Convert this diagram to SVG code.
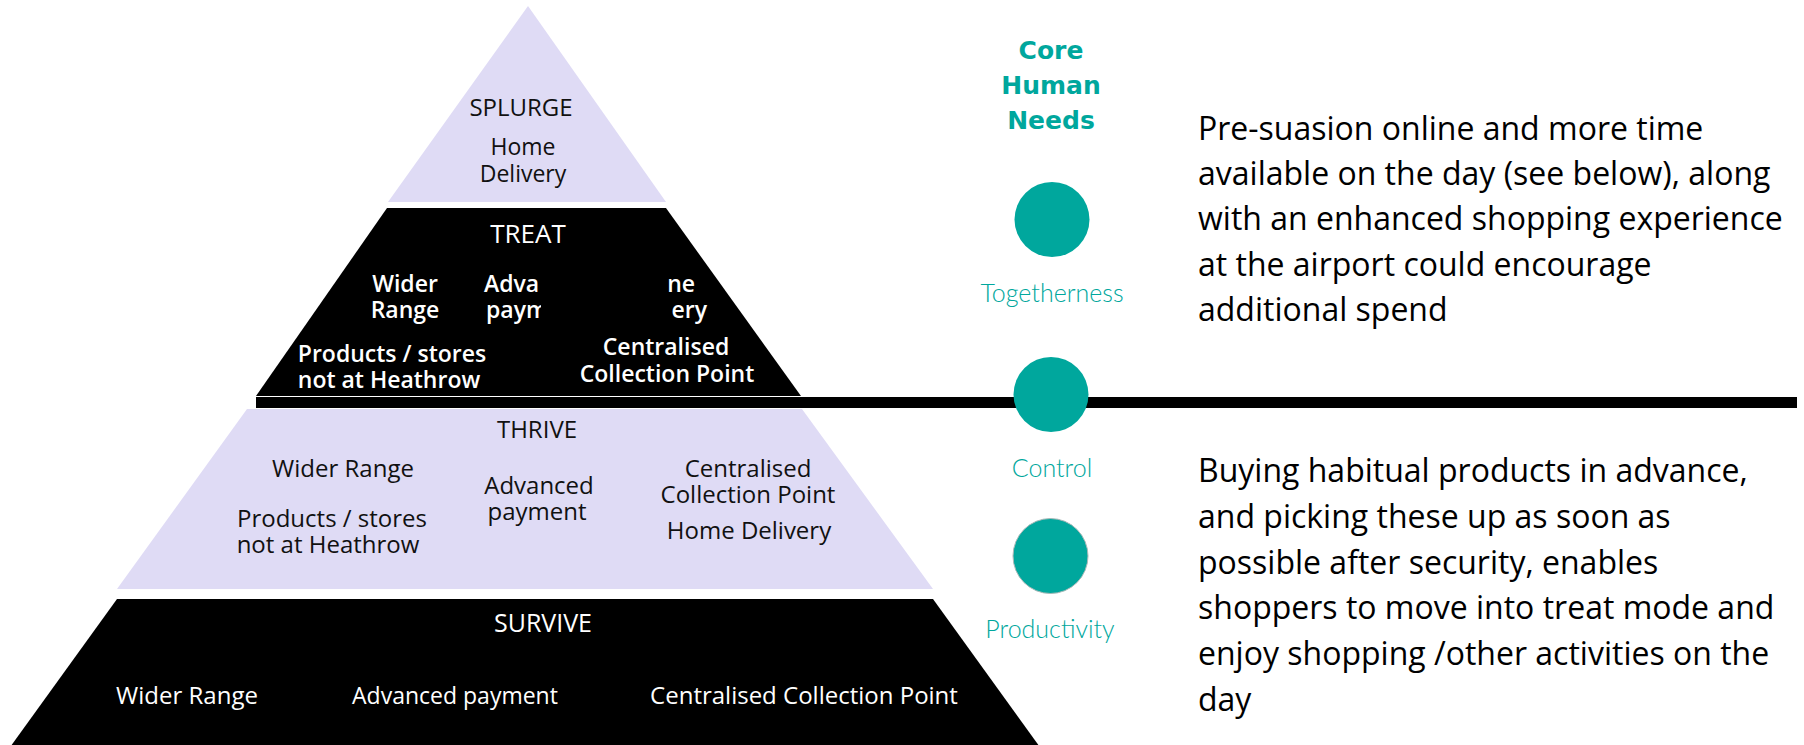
<svg xmlns="http://www.w3.org/2000/svg" width="1804" height="745" viewBox="0 0 1804 745">
<style>
.lav{fill:#DFDBF5}
.blk{fill:#000}
.pt{font-family:"Open Sans","Liberation Sans",sans-serif;text-anchor:middle}
.dark{fill:#111}
.wh{fill:#fff}
.sb{font-weight:600}
.teal{fill:#00A79D}
.lbl{font-family:Lato,"Open Sans",sans-serif;font-size:25px;font-weight:300;text-anchor:middle;fill:#00A79D}
.head{font-family:"DejaVu Sans",sans-serif;font-size:25px;font-weight:bold;text-anchor:middle;fill:#00A79D}
.body{font-family:"Open Sans","Liberation Sans",sans-serif;font-size:32px;fill:#000}
</style>
<defs>
<clipPath id="paymClip"><rect x="400" y="290" width="141" height="40"/></clipPath>
</defs>
<rect width="1804" height="745" fill="#fff"/>

<g id="splurge">
<polygon class="lav" points="528,6 666,202 388,202"/>
<text class="pt dark" x="521" y="116" font-size="24">SPLURGE</text>
<text class="pt dark" font-size="23"><tspan x="523" y="155">Home</tspan><tspan x="523" y="182">Delivery</tspan></text>
</g>

<g id="treat">
<polygon class="blk" points="387,208 666,208 801,396 256,396"/>
<text class="pt wh" x="528" y="243" font-size="26">TREAT</text>
<text class="pt wh sb" font-size="23"><tspan x="405" y="292">Wider</tspan><tspan x="405" y="318">Range</tspan></text>
<text class="pt wh sb" font-size="23" style="text-anchor:start"><tspan x="484" y="292">Adva</tspan><tspan x="486" y="318" clip-path="url(#paymClip)">paym</tspan></text>
<text class="pt wh sb" font-size="23" style="text-anchor:end"><tspan x="695" y="292">ne</tspan><tspan x="707" y="318">ery</tspan></text>
<text class="pt wh sb" font-size="23"><tspan x="392" y="362">Products / stores</tspan><tspan x="389" y="388">not at Heathrow</tspan></text>
<text class="pt wh sb" font-size="23"><tspan x="666" y="355">Centralised</tspan><tspan x="667" y="382">Collection Point</tspan></text>
</g>

<g id="divider">
<rect class="blk" x="256" y="397" width="1541" height="11"/>
</g>

<g id="thrive">
<polygon class="lav" points="247,409 802,409 933,589 117,589"/>
<text class="pt dark" x="537" y="438" font-size="24">THRIVE</text>
<text class="pt dark" x="343" y="477" font-size="24">Wider Range</text>
<text class="pt dark" font-size="24"><tspan x="332" y="527">Products / stores</tspan><tspan x="328" y="553">not at Heathrow</tspan></text>
<text class="pt dark" font-size="24"><tspan x="539" y="494">Advanced</tspan><tspan x="537" y="520">payment</tspan></text>
<text class="pt dark" font-size="24"><tspan x="748" y="477">Centralised</tspan><tspan x="748" y="503">Collection Point</tspan><tspan x="749" y="539">Home Delivery</tspan></text>
</g>

<g id="survive">
<polygon class="blk" points="117,599 933,599 1042,750 8,750"/>
<text class="pt wh" x="543" y="632" font-size="25">SURVIVE</text>
<text class="pt wh" x="187" y="704" font-size="24">Wider Range</text>
<text class="pt wh" x="455" y="704" font-size="23">Advanced payment</text>
<text class="pt wh" x="804" y="704" font-size="24">Centralised Collection Point</text>
</g>

<g id="core-needs-title">
<text class="head"><tspan x="1051" y="59">Core</tspan><tspan x="1051" y="94">Human</tspan><tspan x="1051" y="129">Needs</tspan></text>
</g>

<g id="togetherness">
<circle class="teal" cx="1052" cy="219.5" r="37.5"/>
<text class="lbl" x="1052" y="302">Togetherness</text>
</g>

<g id="control">
<circle class="teal" cx="1051" cy="394.5" r="37.5"/>
<text class="lbl" x="1052" y="477">Control</text>
</g>

<g id="productivity">
<circle class="teal" cx="1050.5" cy="556" r="37.5" stroke="#a9b9b8" stroke-width="1"/>
<text class="lbl" x="1050" y="638">Productivity</text>
</g>

<g id="note-top">
<text class="body"><tspan x="1198" y="140">Pre-suasion online and more time</tspan><tspan x="1198" y="185">available on the day (see below), along</tspan><tspan x="1198" y="230">with an enhanced shopping experience</tspan><tspan x="1198" y="276">at the airport could encourage</tspan><tspan x="1198" y="321">additional spend</tspan></text>
</g>

<g id="note-bottom">
<text class="body"><tspan x="1198" y="482">Buying habitual products in advance,</tspan><tspan x="1198" y="528">and picking these up as soon as</tspan><tspan x="1198" y="574">possible after security, enables</tspan><tspan x="1198" y="619">shoppers to move into treat mode and</tspan><tspan x="1198" y="665">enjoy shopping /other activities on the</tspan><tspan x="1198" y="711">day</tspan></text>
</g>
</svg>
